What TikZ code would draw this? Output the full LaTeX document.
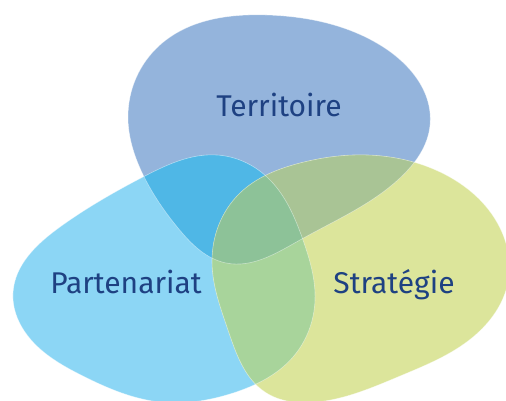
\documentclass[tikz,border=0pt]{standalone}
\usepackage{fontspec}
\setmainfont{Fira Sans}
\usetikzlibrary{hobby}
\definecolor{cTop}{RGB}{148,180,220}
\definecolor{cLeft}{RGB}{140,214,245}
\definecolor{cRight}{RGB}{220,229,155}
\definecolor{cTL}{RGB}{79,183,230}
\definecolor{cTR}{RGB}{169,196,149}
\definecolor{cLR}{RGB}{168,212,155}
\definecolor{cAll}{RGB}{141,194,152}
\definecolor{txt}{RGB}{30,65,130}
\tikzset{
  lbl/.style={text=txt, font=\fontsize{30}{36}\selectfont, anchor=base, inner sep=0pt},
  edge/.style={draw=white, draw opacity=0.45, line width=0.6pt},
  blob/.style={use Hobby shortcut, closed=true}
}
\newcommand{\blobTop}{(128,118) .. (160,45) .. (267,15) .. (380,45) .. (430,125) .. (400,178) .. (300,240) .. (226,263) .. (178,228) .. (140,168)}
\newcommand{\blobLeft}{(13,293) .. (60,227) .. (143,177) .. (217,155) .. (267,177) .. (303,240) .. (315,300) .. (293,357) .. (233,393) .. (160,402) .. (83,376) .. (25,332)}
\newcommand{\blobRight}{(212,262) .. (240,193) .. (300,163) .. (353,155) .. (440,172) .. (500,228) .. (508,282) .. (473,337) .. (400,376) .. (317,402) .. (265,392) .. (228,330)}
\begin{document}
\begin{tikzpicture}[x=1pt,y=-1pt]
\useasboundingbox (0,0) rectangle (506,401);
\clip (0,0) rectangle (506,401);
\fill[cTop,blob] \blobTop;
\fill[cLeft,blob] \blobLeft;
\fill[cRight,blob] \blobRight;
\begin{scope}\clip[blob] \blobTop; \fill[cTL,blob] \blobLeft; \end{scope}
\begin{scope}\clip[blob] \blobTop; \fill[cTR,blob] \blobRight; \end{scope}
\begin{scope}\clip[blob] \blobLeft; \fill[cLR,blob] \blobRight; \end{scope}
\begin{scope}\clip[blob] \blobTop; \clip[blob] \blobLeft; \fill[cAll,blob] \blobRight; \end{scope}
\path[edge,blob] \blobTop;
\path[edge,blob] \blobLeft;
\path[edge,blob] \blobRight;
\node[lbl] (t) at (279,117) {Territoire};
\node[lbl] (p) at (126,293) {Partenariat};
\node[lbl] (s) at (394,293) {Stratégie};
\end{tikzpicture}
\end{document}
